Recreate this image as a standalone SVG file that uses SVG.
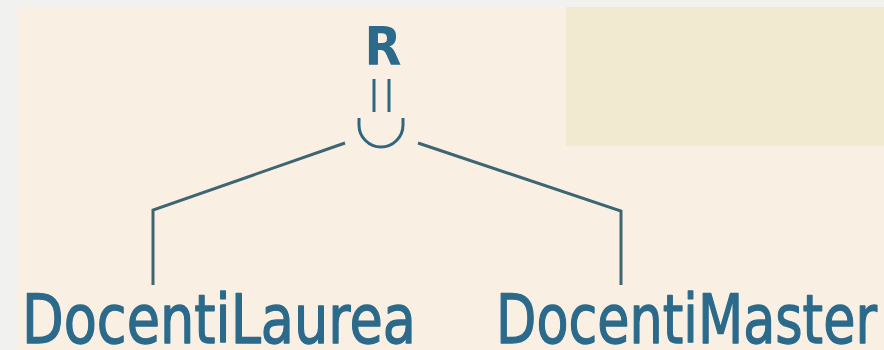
<svg xmlns="http://www.w3.org/2000/svg" width="884" height="350" viewBox="0 0 884 350">
  <style>
    .label { font-family: "DejaVu Sans", "Liberation Sans", sans-serif; fill: #2b6a8a; }
    .heavy { font-weight: bold; }
    .name { stroke: #2b6a8a; stroke-width: 1.4; stroke-linejoin: round; }
    .edge { fill: none; stroke: #3e6672; stroke-width: 3; stroke-linejoin: miter; }
    .op { fill: none; stroke: #2f6680; stroke-width: 3; }
  </style>
  <!-- page background and panels -->
  <rect x="0" y="0" width="884" height="350" fill="#f1f1f0"/>
  <rect x="17" y="7" width="867" height="343" fill="#f9f0e3"/>
  <rect x="566" y="7" width="318" height="139" fill="#f1e9d0"/>

  <g id="connectors">
    <polyline class="edge" points="345,143 153,210 153,285"/>
    <polyline class="edge" points="418,143 621,211 621,285"/>
  </g>

  <g id="node-R">
    <text class="label heavy" x="383" y="65" font-size="54" text-anchor="middle" textLength="37" lengthAdjust="spacingAndGlyphs">R</text>
  </g>

  <g id="node-union">
    <!-- result equality marks -->
    <line class="op" x1="374" y1="79" x2="374" y2="112"/>
    <line class="op" x1="389" y1="79" x2="389" y2="112"/>
    <!-- union cup -->
    <path class="op" d="M359,118 V125 A22,22 0 0 0 403,125 V118"/>
  </g>

  <g id="node-DocentiLaurea">
    <text class="label name" x="22" y="343" font-size="67" textLength="394" lengthAdjust="spacingAndGlyphs">DocentiLaurea</text>
  </g>

  <g id="node-DocentiMaster">
    <text class="label name" x="496" y="343" font-size="67" textLength="381" lengthAdjust="spacingAndGlyphs">DocentiMaster</text>
  </g>
</svg>
